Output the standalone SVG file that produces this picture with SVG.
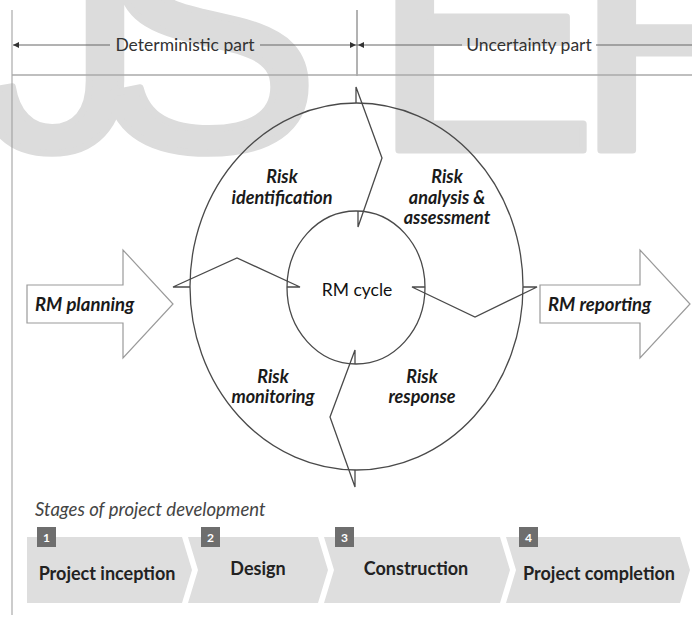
<svg xmlns="http://www.w3.org/2000/svg" width="692" height="619" viewBox="0 0 692 619">
<defs>
<style>
.wm{font-family:"Liberation Sans",Arial,sans-serif;font-size:340px;fill:#dcdcdc;stroke:#dcdcdc;stroke-width:7;stroke-linejoin:round}
.t{font-family:Lato,"Liberation Sans",sans-serif;fill:#1a1a1a}
.hdr{font-size:17.5px;fill:#333;text-anchor:middle}
.bi{font-weight:bold;font-style:italic;font-size:18px;text-anchor:middle}
.bil{font-weight:bold;font-style:italic;font-size:18.5px}
.rg{fill:none;stroke:#4a4a4a;stroke-width:1.3}
.zz{fill:none;stroke:#4a4a4a;stroke-width:1.3;stroke-linejoin:miter}
.big{fill:#fff;stroke:#9a9a9a;stroke-width:1.2}
.chev{fill:#dedede}
.badge{fill:#6e6e6e}
.num{font-family:Lato,"Liberation Sans",sans-serif;font-size:12px;fill:#fff;text-anchor:middle;font-weight:bold}
.stg{font-weight:bold;font-size:18px;text-anchor:middle;fill:#222}
.dim{stroke:#666;stroke-width:1;fill:none}
.ah{fill:#333}
</style>
</defs>
<g id="watermark">
<text class="wm" y="150"><tspan x="-24">J</tspan><tspan x="94">S</tspan><tspan x="371">E</tspan><tspan x="573">R</tspan></text>
</g>
<g id="header">
<line class="dim" x1="12" y1="10" x2="12" y2="615" style="stroke:#999"/>
<line class="dim" x1="357" y1="10" x2="357" y2="76"/>
<line class="dim" x1="12" y1="75" x2="692" y2="75" style="stroke:#aaa;stroke-width:1.5"/>
<line class="dim" x1="13" y1="45" x2="110" y2="45"/>
<line class="dim" x1="260" y1="45" x2="357" y2="45"/>
<line class="dim" x1="357" y1="45" x2="462" y2="45"/>
<line class="dim" x1="596" y1="45" x2="692" y2="45"/>
<polygon class="ah" points="13,45 19,42 19,48"/>
<polygon class="ah" points="356,45 350,42 350,48"/>
<polygon class="ah" points="358,45 364,42 364,48"/>
<text class="t hdr" x="185" y="51">Deterministic part</text>
<text class="t hdr" x="529" y="51">Uncertainty part</text>
</g>
<g id="ring">
<ellipse class="rg" cx="356.5" cy="286.5" rx="166.5" ry="183.5"/>
<ellipse class="rg" cx="356" cy="287.5" rx="69" ry="76.5"/>
</g>
<g id="connectors">
<path class="zz" d="M356,103 L356,87 L382,158 L358,227 L358,211"/>
<path class="zz" d="M523,287 L537,287 L475,317 L412,287 L425,287"/>
<path class="zz" d="M355,470 L355,487 L330,417 L355,350 L355,364"/>
<path class="zz" d="M190,287 L173,287 L237,258 L300,287 L287,287"/>
</g>
<g id="risk-identification">
<text class="t bi" x="282" y="183">Risk</text>
<text class="t bi" x="282" y="204">identification</text>
</g>
<g id="risk-analysis">
<text class="t bi" x="447" y="183">Risk</text>
<text class="t bi" x="447" y="204">analysis &amp;</text>
<text class="t bi" x="447" y="224">assessment</text>
</g>
<g id="rm-cycle">
<text class="t" x="357" y="296" style="font-size:17.5px;text-anchor:middle;fill:#111">RM cycle</text>
</g>
<g id="risk-monitoring">
<text class="t bi" x="273" y="383">Risk</text>
<text class="t bi" x="273" y="403">monitoring</text>
</g>
<g id="risk-response">
<text class="t bi" x="422" y="383">Risk</text>
<text class="t bi" x="422" y="403">response</text>
</g>
<g id="rm-planning">
<polygon class="big" points="27,285 123,285 123,250 173,304 123,358 123,323 27,323"/>
<text class="t bil" x="35" y="311">RM planning</text>
</g>
<g id="rm-reporting">
<polygon class="big" points="540,285 640,285 640,250 690,304 640,358 640,323 540,323"/>
<text class="t bil" x="548" y="311">RM reporting</text>
</g>
<g id="stages-title">
<text class="t" x="35" y="516" style="font-size:18.5px;font-style:italic;fill:#444">Stages of project development</text>
</g>
<g id="stage-1">
<polygon class="chev" points="27,537 182,537 192,570 182,603 27,603"/>
<rect class="badge" x="37" y="527" width="19" height="20"/>
<text class="num" x="46.5" y="542">1</text>
<text class="t stg" x="107" y="580">Project inception</text>
</g>
<g id="stage-2">
<polygon class="chev" points="188,537 318,537 328,570 318,603 188,603 198,570"/>
<rect class="badge" x="201" y="527" width="19" height="20"/>
<text class="num" x="210.5" y="542">2</text>
<text class="t stg" x="258" y="575">Design</text>
</g>
<g id="stage-3">
<polygon class="chev" points="324,537 500,537 510,570 500,603 324,603 334,570"/>
<rect class="badge" x="335" y="527" width="19" height="20"/>
<text class="num" x="344.5" y="542">3</text>
<text class="t stg" x="416" y="575">Construction</text>
</g>
<g id="stage-4">
<polygon class="chev" points="506,537 680,537 690,570 680,603 506,603 516,570"/>
<rect class="badge" x="519" y="527" width="19" height="20"/>
<text class="num" x="528.5" y="542">4</text>
<text class="t stg" x="599" y="580">Project completion</text>
</g>
</svg>
